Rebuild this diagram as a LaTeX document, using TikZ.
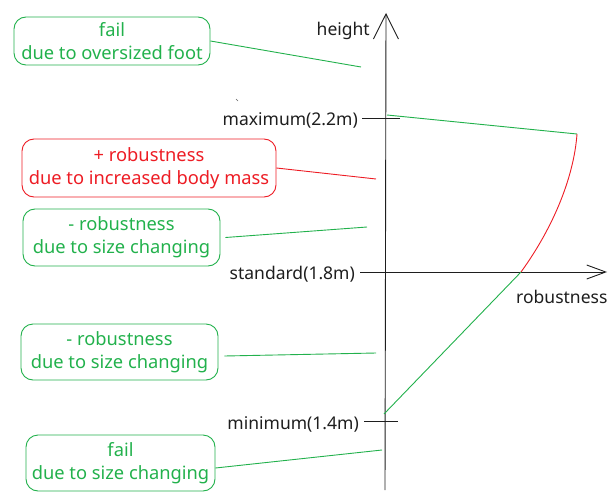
\documentclass[tikz,border=0pt]{standalone}
\usepackage{fontspec}
\setmainfont{Noto Sans}
\usetikzlibrary{arrows.meta}
\definecolor{pgreen}{RGB}{34,177,76}
\definecolor{pred}{RGB}{237,28,36}
\definecolor{ink}{RGB}{30,30,30}
\begin{document}
\begin{tikzpicture}[x=1pt,y=-1pt,
  note/.style={draw, rounded corners=12pt, line width=0.9pt, align=center,
    inner sep=0pt, font=\fontsize{18.3}{23}\selectfont},
  gnote/.style={note, draw=pgreen, text=pgreen},
  rnote/.style={note, draw=pred, text=pred},
  lead/.style={line width=0.9pt},
  axis/.style={ink, line width=0.9pt},
  axlabel/.style={ink, inner sep=0pt, font=\fontsize{17.5}{20}\selectfont}]
\useasboundingbox (0,0) rectangle (609,492);

% axes
\coordinate (ybot) at (385,490);
\coordinate (ytop) at (386,13);
\coordinate (xleft) at (360,272);
\coordinate (xright) at (607,272);
\draw[axis, -{Straight Barb[length=25pt,width=25pt,line width=0.9pt]}] (ybot) -- (ytop);
\draw[axis, -{Straight Barb[length=19pt,width=14pt,line width=0.9pt]}] (xleft) -- (xright);

% ticks on the height axis
\coordinate (maxL) at (362,118); \coordinate (maxR) at (400,118);
\coordinate (minL) at (364,421); \coordinate (minR) at (398,421);
\draw[axis] (maxL) -- (maxR);
\draw[axis] (minL) -- (minR);

% axis labels
\node[axlabel, anchor=east] (hlab) at (370,31) {height};
\node[axlabel, anchor=east] (maxlab) at (358,120) {maximum(2.2m)};
\node[axlabel, anchor=east] (stdlab) at (355,274) {standard(1.8m)};
\node[axlabel, anchor=east] (minlab) at (359,424) {minimum(1.4m)};
\node[axlabel, anchor=west] (rlab) at (516,297) {robustness};

% robustness curve
\coordinate (pmax) at (387,115);
\coordinate (pcorner) at (577,134);
\coordinate (pstd) at (521,272);
\coordinate (pmin) at (384,414);
\draw[pgreen, lead] (pmax) -- (pcorner);
\draw[pred, lead] (pcorner) .. controls (574,175) and (555,225) .. (pstd);
\draw[pgreen, lead] (pstd) -- (pmin);

% annotation boxes
\node[gnote, minimum width=196pt, minimum height=48pt] (b1) at (112,41)
  {fail\\due to oversized foot};
\node[rnote, minimum width=254pt, minimum height=58pt] (b2) at (149,168)
  {\textbf{+} robustness\\due to increased body mass};
\node[gnote, minimum width=197pt, minimum height=57pt] (b3) at (121.5,237.5)
  {- robustness\\due to size changing};
\node[gnote, minimum width=197pt, minimum height=56pt] (b4) at (119.5,352)
  {- robustness\\due to size changing};
\node[gnote, minimum width=189pt, minimum height=56pt] (b5) at (120.5,463)
  {fail\\due to size changing};

% leader lines
\coordinate (e1) at (361,67);
\coordinate (e2) at (376,179);
\coordinate (e3) at (367,227);
\coordinate (e4) at (376,353);
\coordinate (e5) at (382,450);
\draw[pgreen, lead] (b1.east) -- (e1);
\draw[pred, lead] (b2.east) -- (e2);
\draw[pgreen, lead] ([xshift=5pt]b3.east) -- (e3);
\draw[pgreen, lead] ([xshift=6pt,yshift=-4pt]b4.east) -- (e4);
\draw[pgreen, lead] ([yshift=-5pt]b5.east) -- (e5);

% small stray stroke
\coordinate (s1) at (236,99); \coordinate (s2) at (238,101);
\draw[ink!70, line width=0.6pt] (s1) -- (s2);
\end{tikzpicture}
\end{document}
